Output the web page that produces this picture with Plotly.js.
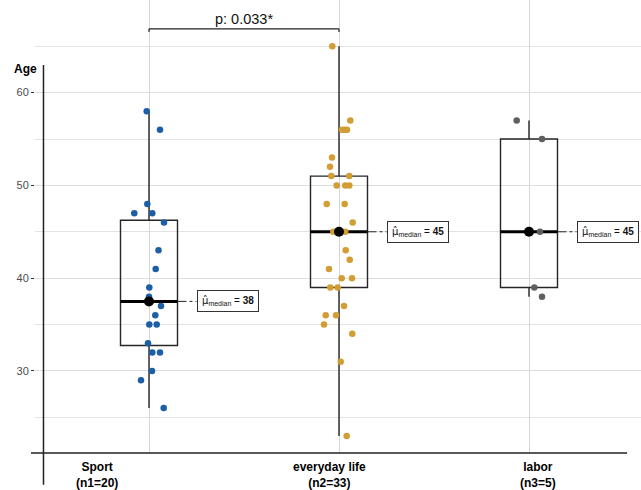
<!DOCTYPE html>
<html>
<head>
<meta charset="utf-8">
<script src="https://cdn.plot.ly/plotly-3.0.1.min.js"></script>
<style>html,body{margin:0;padding:0;background:#fff;}#chart{width:641px;height:490px;}</style>
</head>
<body>
<div id="chart"></div>
<script>
// ---- data ----
const categories = ["Sport", "everyday life", "labor"];
const sportAge = [58, 56, 48, 47, 47, 46, 43, 41, 39, 38, 37, 36, 35, 35, 33, 32, 32, 30, 29, 26];
const everydayAge = [65, 57, 56, 56, 56, 53, 52, 51, 51, 50, 50, 50, 48, 48, 46, 45, 45, 45, 45, 43, 42, 41, 40, 40, 39, 39, 37, 36, 36, 35, 34, 31, 23];
const laborAge = [57, 55, 45, 39, 38];
const pValueText = "p: 0.033*";
const yTickVals = [30, 40, 50, 60];
const yAxisTitle = "Age";

// ---- styles / jitter (pixel offsets of the dots as seen in the picture) ----
const sportJitterPx = [-2.3, 11, -1.7, -14.7, 3.3, 15, 9.5, 6.7, 0.3, 0, 12, 6.3, 0.3, 7.7, -1, 3.3, 11, 3, -8, 14.7];
const everydayJitterPx = [-6.7, 11.3, 3, 5.7, 8, -7, -9, -7.7, 10.3, -2.3, 6.3, 10.3, -12.3, 5.7, 13.7, -5.7, 6.3, 0, 1.5, 6.7, 10.7, -10, 2.7, 13, -8.7, -1.3, 5, -13.3, -3, -15, 13.3, 1.7, 7.7];
const laborJitterPx = [-12.3, 13, 11, 5.3, 13];
const pointColors = ["#1c5fa6", "#d29d33", "#5f5f5f"];
const labelShiftPx = [-52, -10, 9];
const pxPerUnitX = 190;
const boxWidth = 0.3;
const FONT = "Liberation Sans, Arial, Helvetica, sans-serif";

const groups = [sportAge, everydayAge, laborAge];
const jitters = [sportJitterPx, everydayJitterPx, laborJitterPx];

function quantile7(arr, p) {
  const s = arr.slice().sort((a, b) => a - b);
  const h = (s.length - 1) * p;
  const lo = Math.floor(h), hi = Math.ceil(h);
  return s[lo] + (h - lo) * (s[hi] - s[lo]);
}

const traces = [];
const shapes = [];
const annotations = [];

groups.forEach((vals, i) => {
  const q1 = quantile7(vals, 0.25), med = quantile7(vals, 0.5), q3 = quantile7(vals, 0.75);
  const iqr = q3 - q1;
  const lf = Math.min(...vals.filter(v => v >= q1 - 1.5 * iqr));
  const uf = Math.max(...vals.filter(v => v <= q3 + 1.5 * iqr));
  traces.push({
    type: "box", x: [i], q1: [q1], median: [med], q3: [q3], lowerfence: [lf], upperfence: [uf],
    width: boxWidth, whiskerwidth: 0, fillcolor: "rgba(255,255,255,0)",
    line: { color: "#262626", width: 1.4 }, boxpoints: false, hoverinfo: "skip", showlegend: false
  });
  traces.push({
    type: "scatter", mode: "lines", x: [i - boxWidth / 2, i + boxWidth / 2], y: [med, med],
    line: { color: "#000", width: 3 }, hoverinfo: "skip", showlegend: false
  });
  traces.push({
    type: "scatter", mode: "lines", x: [i + boxWidth / 2, i + 0.25], y: [med, med],
    line: { color: "#222", width: 1, dash: "dashdot" }, hoverinfo: "skip", showlegend: false
  });
  annotations.push({
    x: i + 0.25, y: med, xref: "x", yref: "y", xanchor: "left", yanchor: "middle", showarrow: false,
    text: "<span style=\"font-family:'DejaVu Sans'\">μ̂</span><sub>median</sub> = <b>" + Math.round(med) + "</b>",
    font: { family: FONT, size: 10, color: "#111" },
    bgcolor: "#fff", bordercolor: "#333", borderwidth: 1, borderpad: 4
  });
  annotations.push({
    x: i, y: -0.012, xref: "x", yref: "paper", xanchor: "center", yanchor: "top", showarrow: false,
    xshift: labelShiftPx[i],
    text: "<b>" + categories[i] + "</b><br><b>(n" + (i + 1) + "=" + vals.length + ")</b>",
    font: { family: FONT, size: 12, color: "#000" }
  });
});

groups.forEach((vals, i) => {
  traces.push({
    type: "scatter", mode: "markers",
    x: vals.map((v, k) => i + jitters[i][k] / pxPerUnitX), y: vals,
    marker: { color: pointColors[i], size: 6.5 }, hoverinfo: "skip", showlegend: false
  });
});

groups.forEach((vals, i) => {
  const med = quantile7(vals, 0.5);
  traces.push({
    type: "scatter", mode: "markers", x: [i], y: [med],
    marker: { color: "#000", size: 10 }, hoverinfo: "skip", showlegend: false
  });
});

const brY = 66.87, brTick = 0.35;
shapes.push({ type: "line", xref: "x", yref: "y", x0: 0, x1: 1, y0: brY, y1: brY, line: { color: "#222", width: 1.2 } });
shapes.push({ type: "line", xref: "x", yref: "y", x0: 0, x1: 0, y0: brY, y1: brY - brTick, line: { color: "#222", width: 1.2 } });
shapes.push({ type: "line", xref: "x", yref: "y", x0: 1, x1: 1, y0: brY, y1: brY - brTick, line: { color: "#222", width: 1.2 } });
annotations.push({
  x: 0.5, y: brY, xref: "x", yref: "y", xanchor: "center", yanchor: "bottom", showarrow: false,
  text: pValueText, font: { family: FONT, size: 14.5, color: "#111" }
});

shapes.push({ type: "line", xref: "paper", yref: "paper", x0: -0.0066, x1: 0.977, y0: 0, y1: 0, line: { color: "#222", width: 1.5 } });
shapes.push({ type: "line", xref: "paper", yref: "paper", x0: 0.014, x1: 0.014, y0: -0.07, y1: 0.8565, line: { color: "#222", width: 1.5 } });

annotations.push({
  x: -0.038, y: 0.848, xref: "paper", yref: "paper", xanchor: "left", yanchor: "middle", showarrow: false,
  text: "<b>" + yAxisTitle + "</b>", font: { family: FONT, size: 12, color: "#000" }
});

const layout = {
  width: 641, height: 490,
  margin: { l: 35, r: 0, t: 0, b: 37 },
  paper_bgcolor: "#fff", plot_bgcolor: "#fff",
  showlegend: false,
  font: { family: FONT },
  xaxis: {
    range: [-0.6, 2.5895], tickmode: "array", tickvals: [0, 1, 2], showticklabels: false,
    showgrid: true, gridcolor: "#d6d6d6", gridwidth: 1, zeroline: false, showline: false, ticks: ""
  },
  yaxis: {
    range: [21.16, 69.98], tickmode: "array", tickvals: yTickVals,
    showgrid: true, gridcolor: "#dedede", gridwidth: 1,
    minor: { tickmode: "linear", tick0: 0, dtick: 5, showgrid: true, gridcolor: "#e3e3e3", gridwidth: 1, ticks: "" },
    ticks: "outside", ticklen: 3, tickcolor: "#333", tickwidth: 1,
    tickfont: { family: FONT, size: 11, color: "#4d4d4d" },
    zeroline: false, showline: false
  },
  shapes: shapes,
  annotations: annotations
};

Plotly.newPlot("chart", traces, layout, { staticPlot: true, displayModeBar: false });
</script>
</body>
</html>
